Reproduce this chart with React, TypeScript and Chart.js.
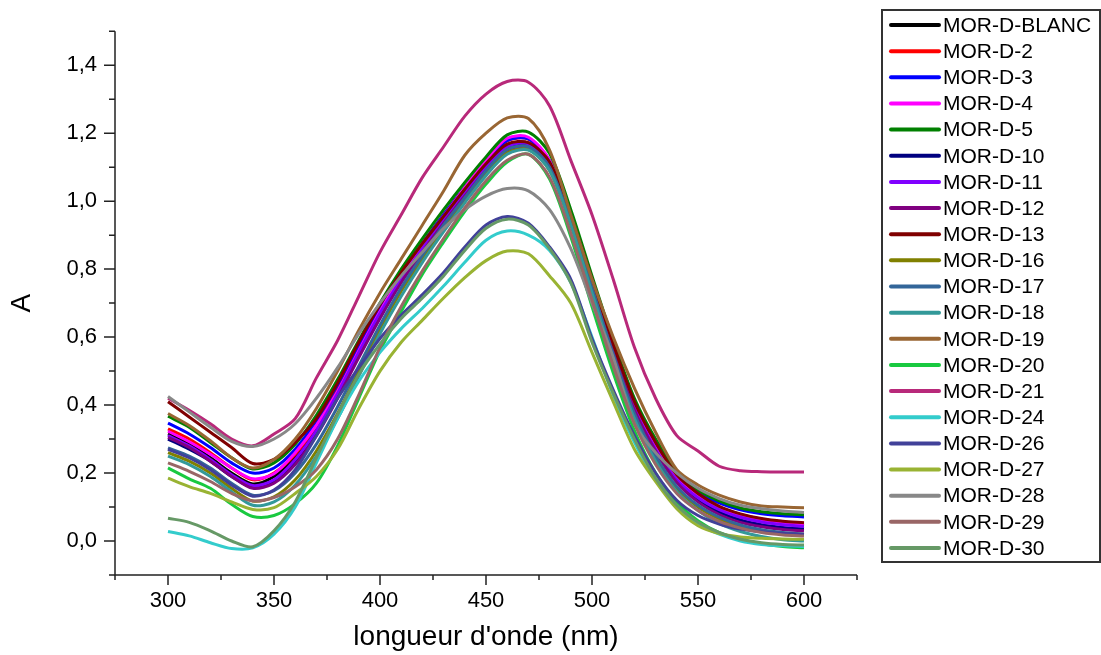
import React, { useEffect, useRef } from 'react';
import { Chart, registerables } from 'chart.js';

Chart.register(...registerables);

const FONT = '"Liberation Sans", Arial, Helvetica, sans-serif';

// Wavelengths (nm)
const wavelengths = [300, 310, 320, 330, 340, 350, 360, 370, 380, 390, 400, 410, 420, 430, 440, 450, 460, 470, 480, 490, 500, 510, 520, 530, 540, 550, 560, 570, 580, 590, 600];

const seriesNames = ['MOR-D-BLANC', 'MOR-D-2', 'MOR-D-3', 'MOR-D-4', 'MOR-D-5', 'MOR-D-10', 'MOR-D-11', 'MOR-D-12', 'MOR-D-13', 'MOR-D-16', 'MOR-D-17', 'MOR-D-18', 'MOR-D-19', 'MOR-D-20', 'MOR-D-21', 'MOR-D-24', 'MOR-D-26', 'MOR-D-27', 'MOR-D-28', 'MOR-D-29', 'MOR-D-30'];

const seriesColors = ['#000000', '#ff0000', '#0000ff', '#ff00ff', '#008000', '#000080', '#8000ff', '#800080', '#800000', '#808000', '#336699', '#339999', '#996633', '#19c940', '#b8297a', '#33cccc', '#414199', '#99b333', '#888888', '#996666', '#669966'];

const morBlanc = [0.315, 0.285, 0.245, 0.200, 0.168, 0.190, 0.245, 0.330, 0.440, 0.560, 0.675, 0.775, 0.865, 0.950, 1.030, 1.105, 1.165, 1.170, 1.105, 0.945, 0.755, 0.565, 0.395, 0.275, 0.185, 0.130, 0.095, 0.072, 0.058, 0.050, 0.045];
const mor2 = [0.330, 0.300, 0.260, 0.215, 0.180, 0.200, 0.255, 0.340, 0.450, 0.570, 0.685, 0.785, 0.875, 0.960, 1.040, 1.115, 1.178, 1.182, 1.115, 0.955, 0.765, 0.575, 0.400, 0.280, 0.190, 0.135, 0.100, 0.078, 0.064, 0.056, 0.052];
const mor3 = [0.347, 0.315, 0.275, 0.230, 0.200, 0.215, 0.270, 0.355, 0.460, 0.575, 0.685, 0.785, 0.875, 0.960, 1.040, 1.115, 1.178, 1.183, 1.120, 0.960, 0.770, 0.580, 0.410, 0.290, 0.200, 0.145, 0.112, 0.092, 0.080, 0.074, 0.071];
const mor4 = [0.323, 0.292, 0.255, 0.215, 0.183, 0.198, 0.260, 0.340, 0.440, 0.560, 0.675, 0.780, 0.870, 0.955, 1.040, 1.120, 1.185, 1.188, 1.120, 0.955, 0.765, 0.570, 0.395, 0.275, 0.185, 0.132, 0.097, 0.075, 0.061, 0.053, 0.048];
const mor5 = [0.367, 0.335, 0.290, 0.245, 0.212, 0.230, 0.285, 0.370, 0.475, 0.590, 0.700, 0.800, 0.890, 0.975, 1.055, 1.130, 1.195, 1.203, 1.140, 0.975, 0.780, 0.590, 0.420, 0.300, 0.205, 0.150, 0.118, 0.097, 0.086, 0.080, 0.077];
const mor10 = [0.300, 0.270, 0.235, 0.190, 0.158, 0.175, 0.230, 0.315, 0.425, 0.545, 0.660, 0.765, 0.855, 0.940, 1.020, 1.095, 1.155, 1.162, 1.100, 0.940, 0.745, 0.555, 0.385, 0.265, 0.175, 0.120, 0.085, 0.062, 0.048, 0.040, 0.035];
const mor11 = [0.310, 0.280, 0.240, 0.195, 0.163, 0.180, 0.240, 0.325, 0.435, 0.555, 0.670, 0.770, 0.860, 0.945, 1.025, 1.100, 1.160, 1.168, 1.100, 0.940, 0.750, 0.560, 0.390, 0.270, 0.180, 0.127, 0.092, 0.070, 0.056, 0.048, 0.043];
const mor12 = [0.305, 0.275, 0.235, 0.190, 0.155, 0.170, 0.225, 0.310, 0.420, 0.540, 0.655, 0.760, 0.850, 0.935, 1.015, 1.090, 1.150, 1.158, 1.095, 0.935, 0.745, 0.555, 0.385, 0.265, 0.172, 0.115, 0.078, 0.055, 0.042, 0.034, 0.030];
const mor13 = [0.410, 0.365, 0.320, 0.275, 0.228, 0.240, 0.290, 0.360, 0.465, 0.585, 0.695, 0.790, 0.875, 0.955, 1.035, 1.110, 1.168, 1.172, 1.115, 0.955, 0.770, 0.580, 0.410, 0.290, 0.195, 0.140, 0.102, 0.080, 0.066, 0.058, 0.054];
const mor16 = [0.260, 0.235, 0.200, 0.155, 0.118, 0.130, 0.180, 0.265, 0.375, 0.500, 0.625, 0.735, 0.830, 0.920, 1.000, 1.080, 1.142, 1.152, 1.090, 0.930, 0.735, 0.540, 0.370, 0.245, 0.155, 0.100, 0.065, 0.043, 0.030, 0.023, 0.020];
const mor17 = [0.274, 0.250, 0.215, 0.170, 0.135, 0.148, 0.200, 0.285, 0.395, 0.515, 0.635, 0.745, 0.840, 0.930, 1.010, 1.090, 1.152, 1.160, 1.100, 0.940, 0.745, 0.550, 0.375, 0.250, 0.160, 0.105, 0.070, 0.047, 0.033, 0.025, 0.020];
const mor18 = [0.250, 0.225, 0.190, 0.145, 0.105, 0.115, 0.165, 0.250, 0.360, 0.485, 0.610, 0.720, 0.820, 0.910, 0.995, 1.075, 1.138, 1.150, 1.090, 0.930, 0.730, 0.535, 0.360, 0.235, 0.145, 0.090, 0.052, 0.028, 0.013, 0.004, 0.000];
const mor19 = [0.375, 0.340, 0.295, 0.245, 0.215, 0.240, 0.300, 0.390, 0.500, 0.620, 0.730, 0.830, 0.930, 1.030, 1.135, 1.200, 1.245, 1.243, 1.150, 0.960, 0.770, 0.600, 0.450, 0.320, 0.210, 0.165, 0.135, 0.115, 0.103, 0.100, 0.098];
const mor20 = [0.215, 0.183, 0.155, 0.108, 0.072, 0.075, 0.110, 0.170, 0.280, 0.420, 0.560, 0.675, 0.785, 0.880, 0.970, 1.050, 1.115, 1.138, 1.065, 0.895, 0.690, 0.495, 0.325, 0.200, 0.115, 0.060, 0.025, 0.005, -0.008, -0.016, -0.020];
const mor21 = [0.420, 0.385, 0.345, 0.300, 0.280, 0.315, 0.360, 0.480, 0.590, 0.720, 0.850, 0.960, 1.070, 1.160, 1.250, 1.315, 1.352, 1.350, 1.280, 1.120, 0.960, 0.770, 0.570, 0.420, 0.310, 0.265, 0.220, 0.207, 0.204, 0.203, 0.203];
const mor24 = [0.028, 0.015, -0.005, -0.022, -0.020, 0.020, 0.100, 0.230, 0.360, 0.470, 0.555, 0.625, 0.685, 0.750, 0.820, 0.885, 0.912, 0.900, 0.855, 0.760, 0.600, 0.430, 0.290, 0.180, 0.100, 0.050, 0.020, 0.000, -0.010, -0.014, -0.016];
const mor26 = [0.270, 0.245, 0.210, 0.165, 0.132, 0.150, 0.210, 0.310, 0.420, 0.510, 0.596, 0.665, 0.725, 0.790, 0.865, 0.930, 0.955, 0.935, 0.865, 0.770, 0.595, 0.445, 0.310, 0.200, 0.120, 0.075, 0.050, 0.035, 0.027, 0.022, 0.020];
const mor27 = [0.185, 0.160, 0.140, 0.115, 0.093, 0.098, 0.140, 0.190, 0.270, 0.390, 0.500, 0.585, 0.650, 0.715, 0.775, 0.825, 0.853, 0.845, 0.780, 0.700, 0.555, 0.410, 0.270, 0.175, 0.095, 0.045, 0.022, 0.012, 0.008, 0.006, 0.005];
const mor28 = [0.425, 0.380, 0.335, 0.293, 0.278, 0.300, 0.345, 0.420, 0.510, 0.610, 0.700, 0.780, 0.850, 0.920, 0.975, 1.015, 1.037, 1.030, 0.975, 0.860, 0.700, 0.540, 0.345, 0.260, 0.200, 0.155, 0.125, 0.105, 0.095, 0.088, 0.084];
const mor29 = [0.230, 0.205, 0.175, 0.140, 0.118, 0.128, 0.160, 0.210, 0.300, 0.430, 0.570, 0.690, 0.795, 0.890, 0.980, 1.060, 1.120, 1.138, 1.070, 0.905, 0.710, 0.515, 0.345, 0.225, 0.140, 0.090, 0.058, 0.038, 0.025, 0.018, 0.015];
const mor30 = [0.067, 0.055, 0.030, 0.000, -0.017, 0.030, 0.115, 0.245, 0.372, 0.490, 0.580, 0.655, 0.715, 0.780, 0.855, 0.920, 0.947, 0.930, 0.860, 0.760, 0.585, 0.435, 0.300, 0.185, 0.105, 0.055, 0.025, 0.005, -0.005, -0.010, -0.012];

const seriesValues = [morBlanc, mor2, mor3, mor4, mor5, mor10, mor11, mor12, mor13, mor16, mor17, mor18, mor19, mor20, mor21, mor24, mor26, mor27, mor28, mor29, mor30];

// Axis ticks
const xLabeledTicks = [300, 350, 400, 450, 500, 550, 600];
const yTickLabels: Record<string, string> = { '0': '0,0', '2': '0,2', '4': '0,4', '6': '0,6', '8': '0,8', '10': '1,0', '12': '1,2', '14': '1,4' };

const axesPlugin = {
  id: 'originAxes',
  afterDraw(chart: any) {
    const { ctx, chartArea: a, scales } = chart;
    const xs = scales.x;
    const ys = scales.y;
    ctx.save();
    ctx.strokeStyle = '#222';
    ctx.lineWidth = 1.5;
    ctx.beginPath();
    ctx.moveTo(a.left, a.top);
    ctx.lineTo(a.left, a.bottom);
    ctx.lineTo(a.right, a.bottom);
    ctx.stroke();
    ctx.beginPath();
    for (let k = -1; k <= 15; k++) {
      const py = ys.getPixelForValue(k / 10);
      const len = k % 2 === 0 ? 11 : 6;
      ctx.moveTo(a.left - len, py);
      ctx.lineTo(a.left, py);
    }
    for (let v = 275; v <= 625; v += 25) {
      const px = xs.getPixelForValue(v);
      const len = v % 50 === 0 ? 10 : 5;
      ctx.moveTo(px, a.bottom);
      ctx.lineTo(px, a.bottom + len);
    }
    ctx.stroke();
    ctx.restore();
  },
};

const legendPlugin = {
  id: 'boxLegend',
  afterDraw(chart: any) {
    const ctx = chart.ctx;
    ctx.save();
    ctx.strokeStyle = '#333';
    ctx.lineWidth = 2;
    ctx.strokeRect(882, 10, 218, 552);
    ctx.font = `21px ${FONT}`;
    ctx.textBaseline = 'middle';
    ctx.textAlign = 'left';
    chart.data.datasets.forEach((ds: any, i: number) => {
      const cy = 25 + i * 26.15;
      ctx.strokeStyle = ds.borderColor;
      ctx.lineWidth = 4;
      ctx.lineCap = 'round';
      ctx.beginPath();
      ctx.moveTo(891, cy);
      ctx.lineTo(939, cy);
      ctx.stroke();
      ctx.fillStyle = '#000';
      ctx.fillText(ds.label, 943, cy + 1);
    });
    ctx.restore();
  },
};

export default function App() {
  const canvasRef = useRef<HTMLCanvasElement | null>(null);

  useEffect(() => {
    if (!canvasRef.current) return;
    Chart.defaults.font.family = FONT;
    const n = seriesNames.length;
    const datasets = seriesNames.map((name, i) => ({
      label: name,
      data: wavelengths.map((w, j) => ({ x: w, y: seriesValues[i][j] })),
      borderColor: seriesColors[i],
      backgroundColor: seriesColors[i],
      borderWidth: 3,
      pointRadius: 0,
      tension: 0.3,
      fill: false,
      order: n - i,
    }));

    const chart = new Chart(canvasRef.current, {
      type: 'line',
      data: { datasets },
      options: {
        animation: false,
        responsive: false,
        layout: { padding: { left: 0, top: 28, right: 244, bottom: 0 } },
        plugins: { legend: { display: false }, tooltip: { enabled: false } },
        scales: {
          x: {
            type: 'linear',
            min: 275,
            max: 625,
            afterFit: (s: any) => { s.height = 80; },
            grid: { display: false, drawTicks: false },
            border: { display: false },
            ticks: {
              stepSize: 25,
              autoSkip: false,
              maxRotation: 0,
              padding: 13,
              color: '#000',
              font: { size: 22 },
              callback: (v: any) => (xLabeledTicks.includes(Number(v)) ? String(v) : ''),
            },
            title: {
              display: true,
              text: "longueur d'onde (nm)",
              color: '#000',
              font: { size: 28 },
              padding: { top: 0, bottom: 1 },
            },
          },
          y: {
            type: 'linear',
            min: -0.1,
            max: 1.5,
            afterFit: (s: any) => { s.width = 115; },
            grid: { display: false, drawTicks: false },
            border: { display: false },
            ticks: {
              stepSize: 0.1,
              autoSkip: false,
              padding: 18,
              color: '#000',
              font: { size: 22 },
              callback: (v: any) => yTickLabels[String(Math.round(Number(v) * 10))] ?? '',
            },
            title: {
              display: true,
              text: 'A',
              color: '#000',
              font: { size: 28 },
              padding: { top: 5, bottom: 0 },
            },
          },
        },
      },
      plugins: [axesPlugin, legendPlugin],
    });
    return () => chart.destroy();
  }, []);

  return (
    <div style={{ position: 'absolute', left: 0, top: 0, width: 1101, height: 655, background: '#fff' }}>
      <canvas ref={canvasRef} width={1101} height={655} style={{ display: 'block', width: 1101, height: 655 }} />
    </div>
  );
}
